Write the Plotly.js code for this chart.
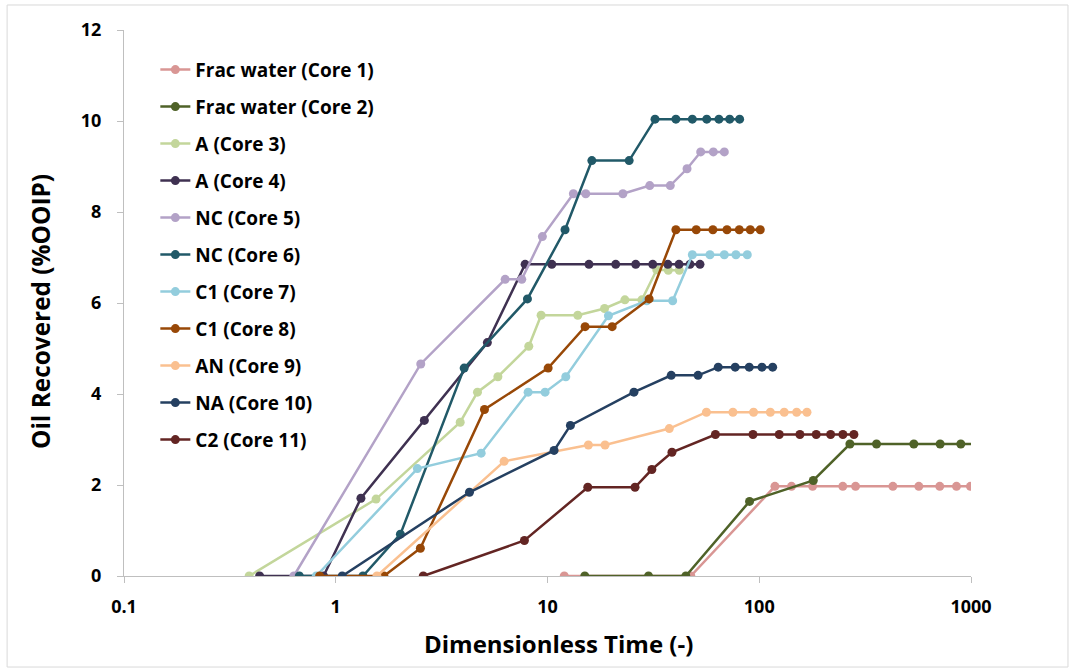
<!DOCTYPE html>
<html>
<head>
<meta charset="utf-8">
<script src="https://cdn.plot.ly/plotly-3.0.1.min.js"></script>
<style>
  html, body { margin: 0; padding: 0; background: #ffffff; }
  #chart { width: 1075px; height: 672px; }
</style>
</head>
<body>
<div id="chart"></div>
<script>
// Spontaneous imbibition: oil recovered vs dimensionless time, one series per core.

const seriesNames = [
  'Frac water (Core 1)', 'Frac water (Core 2)', 'A (Core 3)', 'A (Core 4)',
  'NC (Core 5)', 'NC (Core 6)', 'C1 (Core 7)', 'C1 (Core 8)',
  'AN (Core 9)', 'NA (Core 10)', 'C2 (Core 11)'
];

const seriesColors = [
  '#D99694', '#4F6228', '#C3D69B', '#3F3151',
  '#B3A2C7', '#215968', '#93CDDD', '#984807',
  '#FAC090', '#254061', '#632523'
];

// Frac water (Core 1)
const core1T = [12, 47.5, 118.6, 142, 178.6, 248, 285, 427.6, 567, 712, 854, 994];
const core1R = [0, 0, 1.97, 1.97, 1.97, 1.97, 1.97, 1.97, 1.97, 1.97, 1.97, 1.97];

// Frac water (Core 2)
const core2T = [15, 30, 45, 90, 180, 268, 358, 537, 715, 895, 1100];
const core2R = [0, 0, 0, 1.64, 2.10, 2.90, 2.90, 2.90, 2.90, 2.90, 2.90];

// A (Core 3)
const core3T = [0.39, 1.55, 3.87, 4.67, 5.83, 8.16, 9.33, 13.9, 18.6, 23.2, 27.9, 32.8, 37.2, 41.9];
const core3R = [0, 1.69, 3.38, 4.04, 4.38, 5.05, 5.73, 5.73, 5.88, 6.07, 6.07, 6.73, 6.72, 6.72];

// A (Core 4)
const core4T = [0.437, 0.876, 1.315, 2.62, 5.2, 7.84, 10.48, 15.7, 21.0, 26.1, 31.4, 37.0, 41.8, 47.1, 52.5];
const core4R = [0, 0, 1.71, 3.42, 5.13, 6.85, 6.85, 6.85, 6.85, 6.85, 6.85, 6.85, 6.85, 6.85, 6.85];

// NC (Core 5)
const core5T = [0.634, 2.52, 6.31, 7.56, 9.46, 13.25, 15.16, 22.7, 30.4, 38.0, 45.6, 52.9, 60.7, 68.4];
const core5R = [0, 4.66, 6.52, 6.52, 7.46, 8.40, 8.40, 8.40, 8.58, 8.58, 8.95, 9.32, 9.32, 9.32];

// NC (Core 6)
const core6T = [0.673, 1.344, 2.02, 4.04, 8.04, 12.1, 16.2, 24.3, 32.2, 40.4, 48.3, 56.5, 64.5, 72.5, 80.8];
const core6R = [0, 0, 0.92, 4.57, 6.09, 7.61, 9.13, 9.13, 10.04, 10.04, 10.04, 10.04, 10.04, 10.04, 10.04];

// C1 (Core 7)
const core7T = [0.809, 2.43, 4.86, 8.10, 9.74, 12.2, 19.4, 29.4, 39.0, 48.3, 58.5, 68.4, 77.6, 87.8];
const core7R = [0, 2.36, 2.70, 4.04, 4.04, 4.38, 5.72, 6.05, 6.05, 7.06, 7.06, 7.06, 7.06, 7.06];

// C1 (Core 8)
const core8T = [0.839, 1.689, 2.51, 5.04, 10.07, 15.05, 20.2, 30.2, 40.4, 50.4, 60.4, 70.4, 80.5, 90.7, 101.1];
const core8R = [0, 0, 0.61, 3.66, 4.57, 5.48, 5.48, 6.09, 7.61, 7.61, 7.61, 7.61, 7.61, 7.61, 7.61];

// AN (Core 9)
const core9T = [1.565, 6.24, 15.6, 18.7, 37.6, 56.3, 75.1, 94.0, 112.8, 131.2, 150.2, 168];
const core9R = [0, 2.52, 2.88, 2.88, 3.24, 3.60, 3.60, 3.60, 3.60, 3.60, 3.60, 3.60];

// NA (Core 10)
const core10T = [1.073, 4.28, 10.74, 12.83, 25.6, 38.4, 51.4, 64.0, 77.0, 89.7, 103, 115.7];
const core10R = [0, 1.84, 2.76, 3.31, 4.04, 4.41, 4.41, 4.59, 4.59, 4.59, 4.59, 4.59];

// C2 (Core 11)
const core11T = [2.59, 7.78, 15.5, 25.9, 31.1, 38.7, 62.1, 93.4, 124.3, 155.6, 185.8, 217.3, 248.3, 279.9];
const core11R = [0, 0.78, 1.95, 1.95, 2.34, 2.72, 3.11, 3.11, 3.11, 3.11, 3.11, 3.11, 3.11, 3.11];

const timeSeries = [core1T, core2T, core3T, core4T, core5T, core6T, core7T, core8T, core9T, core10T, core11T];
const recoverySeries = [core1R, core2R, core3R, core4R, core5R, core6R, core7R, core8R, core9R, core10R, core11R];

const xTickVals = [0.1, 1, 10, 100, 1000];
const xTickText = ['0.1', '1', '10', '100', '1000'];
const yTickVals = [0, 2, 4, 6, 8, 10, 12];

const xTitle = 'Dimensionless Time (-)';
const yTitle = 'Oil Recovered (%OOIP)';

const FONT = '"Open Sans", "DejaVu Sans", sans-serif';
const AXIS_GREY = '#BFBFBF';

const traces = seriesNames.map((name, i) => ({
  type: 'scatter',
  mode: 'lines+markers',
  name: name,
  legendgroup: 'g' + i,
  x: timeSeries[i],
  y: recoverySeries[i],
  line: { color: seriesColors[i], width: 2.5 },
  marker: { color: seriesColors[i], size: 9 },
  cliponaxis: true
}));

const layout = {
  width: 1075,
  height: 672,
  paper_bgcolor: '#ffffff',
  plot_bgcolor: '#ffffff',
  margin: { l: 124, r: 104, t: 30, b: 96 },
  font: { family: FONT, color: '#000000', size: 19, weight: 700 },
  showlegend: true,
  legend: {
    x: 0.037, y: 0.962, xanchor: 'left', yanchor: 'top',
    bgcolor: 'rgba(0,0,0,0)',
    borderwidth: 0,
    tracegroupgap: 9.3,
    traceorder: 'grouped',
    font: { family: FONT, size: 19, color: '#000000', weight: 700 }
  },
  xaxis: {
    type: 'log',
    range: [-1, 3],
    tickvals: xTickVals,
    ticktext: xTickText,
    showgrid: false,
    zeroline: false,
    showline: true,
    linecolor: AXIS_GREY,
    linewidth: 1,
    ticks: 'outside',
    ticklen: 6,
    tickcolor: AXIS_GREY,
    tickfont: { family: FONT, size: 18, weight: 700 },
    ticklabelstandoff: 8,
    automargin: false
  },
  yaxis: {
    range: [0, 12],
    tickvals: yTickVals,
    showgrid: false,
    zeroline: false,
    showline: true,
    linecolor: AXIS_GREY,
    linewidth: 1,
    ticks: 'outside',
    ticklen: 6,
    tickcolor: AXIS_GREY,
    tickfont: { family: FONT, size: 18, weight: 700 },
    ticklabelstandoff: 12,
    automargin: false
  },
  annotations: [
    {
      text: xTitle, xref: 'paper', yref: 'paper',
      x: 0.5124, y: -0.1235, xanchor: 'center', yanchor: 'middle',
      showarrow: false,
      font: { family: FONT, size: 24, weight: 700, color: '#000000' }
    },
    {
      text: yTitle, xref: 'paper', yref: 'paper',
      x: -0.0992, y: 0.4853, xanchor: 'center', yanchor: 'middle',
      textangle: -90,
      showarrow: false,
      font: { family: FONT, size: 24.4, weight: 700, color: '#000000' }
    }
  ],
  shapes: [{
    type: 'rect', xref: 'paper', yref: 'paper',
    x0: -0.138, x1: 1.1145, y0: -0.1667, y1: 1.0458,
    line: { color: '#D9D9D9', width: 1 },
    fillcolor: 'rgba(0,0,0,0)',
    layer: 'below'
  }]
};

Plotly.newPlot('chart', traces, layout, { displayModeBar: false, staticPlot: true });
</script>
</body>
</html>
